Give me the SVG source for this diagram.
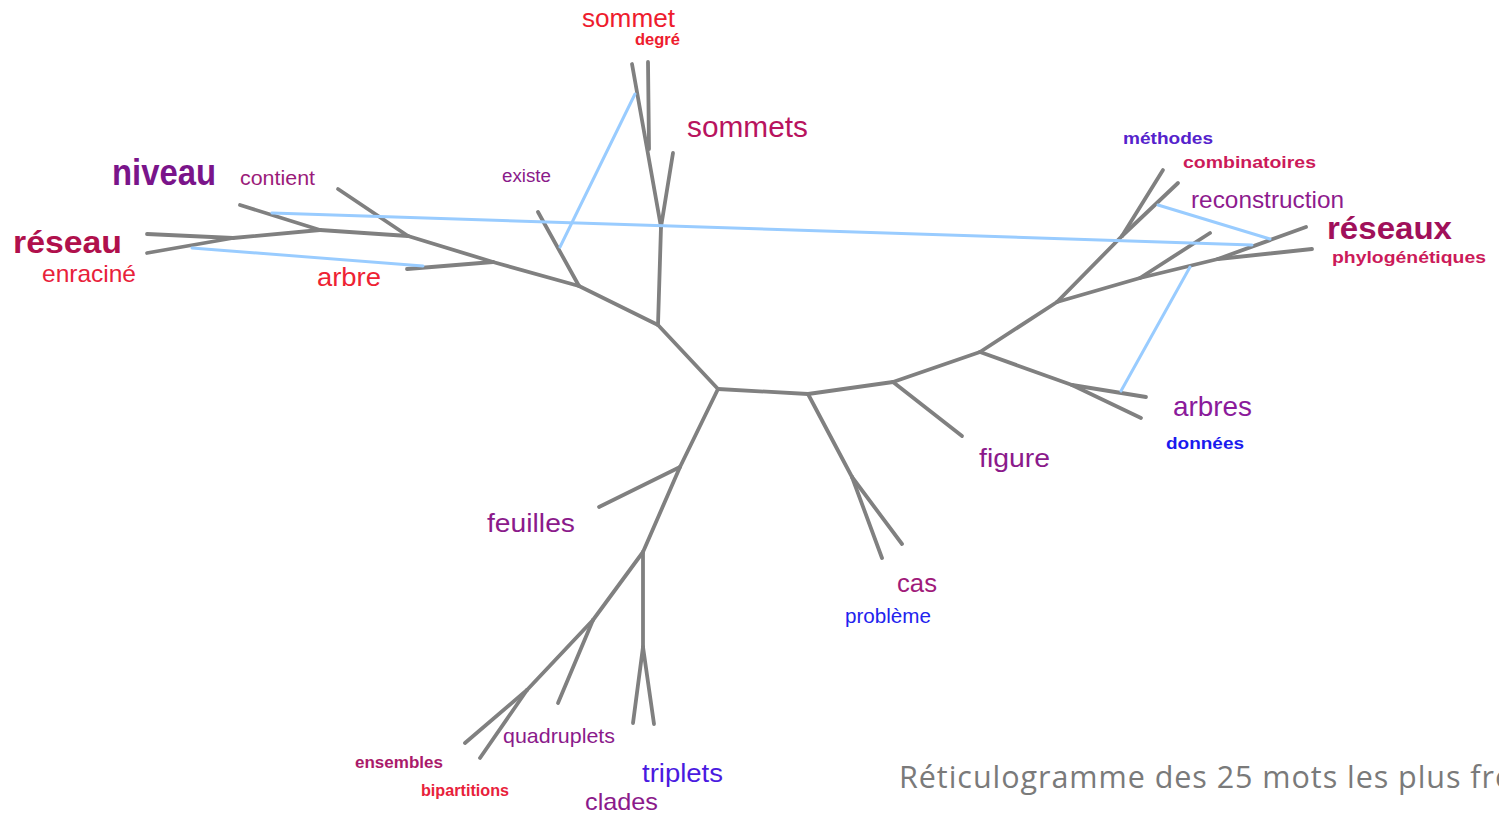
<svg xmlns="http://www.w3.org/2000/svg" width="1499" height="814" viewBox="0 0 1499 814">
<style>
.t{stroke:#808080;stroke-width:3.8;stroke-linecap:round;fill:none}
.b{stroke:#99ccff;stroke-width:3;stroke-linecap:round;fill:none}
text{font-family:"Liberation Sans",Arial,sans-serif}
.bd{font-weight:bold}
.cap{font-family:"Open Sans","Noto Sans",sans-serif;fill:#7a7a7a;font-size:30.5px;letter-spacing:0.95px}
</style>
<rect width="1499" height="814" fill="#ffffff"/>
<g id="connectors">
<g class="t">
<line x1="147" y1="234" x2="233" y2="238"/>
<line x1="147" y1="253" x2="233" y2="238"/>
<line x1="233" y1="238" x2="320" y2="230"/>
<line x1="240" y1="205" x2="320" y2="230"/>
<line x1="320" y1="230" x2="408" y2="236"/>
<line x1="338" y1="189" x2="408" y2="236"/>
<line x1="408" y1="236" x2="493" y2="262"/>
<line x1="407" y1="269" x2="493" y2="262"/>
<line x1="493" y1="262" x2="579" y2="286"/>
<line x1="538" y1="212" x2="579" y2="286"/>
<line x1="579" y1="286" x2="658" y2="325"/>
<line x1="658" y1="325" x2="718" y2="389"/>
<line x1="658" y1="325" x2="661" y2="227"/>
<line x1="661" y1="227" x2="673" y2="153"/>
<line x1="661" y1="227" x2="632" y2="64"/>
<line x1="649" y1="149" x2="648" y2="62"/>
<line x1="718" y1="389" x2="808" y2="394"/>
<line x1="808" y1="394" x2="893" y2="382"/>
<line x1="893" y1="382" x2="980" y2="352"/>
<line x1="893" y1="382" x2="962" y2="436"/>
<line x1="980" y1="352" x2="1057" y2="302"/>
<line x1="980" y1="352" x2="1072" y2="385"/>
<line x1="1072" y1="385" x2="1146" y2="397"/>
<line x1="1072" y1="385" x2="1141" y2="418"/>
<line x1="1057" y1="302" x2="1122" y2="236"/>
<line x1="1122" y1="236" x2="1163" y2="170"/>
<line x1="1122" y1="236" x2="1178" y2="183"/>
<line x1="1057" y1="302" x2="1140" y2="278"/>
<line x1="1140" y1="278" x2="1210" y2="233"/>
<line x1="1140" y1="278" x2="1218" y2="259"/>
<line x1="1218" y1="259" x2="1306" y2="227"/>
<line x1="1218" y1="259" x2="1312" y2="249"/>
<line x1="718" y1="389" x2="680" y2="467"/>
<line x1="680" y1="467" x2="599" y2="507"/>
<line x1="680" y1="467" x2="643" y2="552"/>
<line x1="643" y1="552" x2="643" y2="647"/>
<line x1="643" y1="647" x2="633" y2="723"/>
<line x1="643" y1="647" x2="654" y2="724"/>
<line x1="643" y1="552" x2="593" y2="620"/>
<line x1="593" y1="620" x2="558" y2="703"/>
<line x1="593" y1="620" x2="527" y2="690"/>
<line x1="527" y1="690" x2="465" y2="743"/>
<line x1="527" y1="690" x2="480" y2="758"/>
<line x1="808" y1="394" x2="852" y2="477"/>
<line x1="852" y1="477" x2="882" y2="558"/>
<line x1="852" y1="477" x2="902" y2="544"/>
</g>
<g class="b">
<line x1="272" y1="213" x2="1252" y2="245"/>
<line x1="192" y1="248" x2="423" y2="266"/>
<line x1="560" y1="247" x2="635" y2="94"/>
<line x1="1158" y1="205" x2="1270" y2="239"/>
<line x1="1190" y1="267" x2="1121" y2="391"/>
</g>
</g>
<g id="n-sommet"><text x="582" y="27" font-size="26" textLength="93" lengthAdjust="spacingAndGlyphs" fill="#ee1c2e">sommet</text></g>
<g id="n-degre"><text class="bd" x="635" y="45" font-size="16" textLength="45" lengthAdjust="spacingAndGlyphs" fill="#ee1c2e">degré</text></g>
<g id="n-sommets"><text x="687" y="137" font-size="29" textLength="121" lengthAdjust="spacingAndGlyphs" fill="#b8135e">sommets</text></g>
<g id="n-existe"><text x="502" y="182" font-size="18" textLength="49" lengthAdjust="spacingAndGlyphs" fill="#8a1a8a">existe</text></g>
<g id="n-niveau"><text class="bd" x="112" y="185" font-size="36" textLength="104" lengthAdjust="spacingAndGlyphs" fill="#7a148a">niveau</text></g>
<g id="n-contient"><text x="240" y="185" font-size="20" textLength="75" lengthAdjust="spacingAndGlyphs" fill="#9b1b7a">contient</text></g>
<g id="n-reseau"><text class="bd" x="13" y="253" font-size="31" textLength="109" lengthAdjust="spacingAndGlyphs" fill="#b0104c">réseau</text></g>
<g id="n-enracine"><text x="42" y="282" font-size="24" textLength="94" lengthAdjust="spacingAndGlyphs" fill="#e8213a">enraciné</text></g>
<g id="n-arbre"><text x="317" y="286" font-size="26" textLength="64" lengthAdjust="spacingAndGlyphs" fill="#ee2233">arbre</text></g>
<g id="n-methodes"><text class="bd" x="1123" y="144" font-size="17" textLength="90" lengthAdjust="spacingAndGlyphs" fill="#5522cc">méthodes</text></g>
<g id="n-combinatoires"><text class="bd" x="1183" y="168" font-size="17" textLength="133" lengthAdjust="spacingAndGlyphs" fill="#cc1a5a">combinatoires</text></g>
<g id="n-reconstruction"><text x="1191" y="208" font-size="24" textLength="153" lengthAdjust="spacingAndGlyphs" fill="#8e1b8e">reconstruction</text></g>
<g id="n-reseaux"><text class="bd" x="1327" y="239" font-size="32" textLength="125" lengthAdjust="spacingAndGlyphs" fill="#a0105a">réseaux</text></g>
<g id="n-phylogenetiques"><text class="bd" x="1332" y="263" font-size="17" textLength="154" lengthAdjust="spacingAndGlyphs" fill="#cc1a5a">phylogénétiques</text></g>
<g id="n-arbres"><text x="1173" y="416" font-size="28" textLength="79" lengthAdjust="spacingAndGlyphs" fill="#8b1a9b">arbres</text></g>
<g id="n-donnees"><text class="bd" x="1166" y="449" font-size="17" textLength="78" lengthAdjust="spacingAndGlyphs" fill="#1a1aee">données</text></g>
<g id="n-figure"><text x="979" y="467" font-size="26" textLength="71" lengthAdjust="spacingAndGlyphs" fill="#8b1a8b">figure</text></g>
<g id="n-cas"><text x="897" y="592" font-size="26" textLength="40" lengthAdjust="spacingAndGlyphs" fill="#a01a7a">cas</text></g>
<g id="n-probleme"><text x="845" y="623" font-size="20" textLength="86" lengthAdjust="spacingAndGlyphs" fill="#2222ee">problème</text></g>
<g id="n-feuilles"><text x="487" y="532" font-size="26" textLength="88" lengthAdjust="spacingAndGlyphs" fill="#8b1a8b">feuilles</text></g>
<g id="n-quadruplets"><text x="503" y="743" font-size="21" textLength="112" lengthAdjust="spacingAndGlyphs" fill="#8b1a8b">quadruplets</text></g>
<g id="n-ensembles"><text class="bd" x="355" y="768" font-size="17" textLength="88" lengthAdjust="spacingAndGlyphs" fill="#aa1a6a">ensembles</text></g>
<g id="n-bipartitions"><text class="bd" x="421" y="796" font-size="17" textLength="88" lengthAdjust="spacingAndGlyphs" fill="#e8213a">bipartitions</text></g>
<g id="n-triplets"><text x="642" y="782" font-size="26" textLength="81" lengthAdjust="spacingAndGlyphs" fill="#4a1ae0">triplets</text></g>
<g id="n-clades"><text x="585" y="810" font-size="24" textLength="73" lengthAdjust="spacingAndGlyphs" fill="#8b1a8b">clades</text></g>
<g id="caption">
<text class="cap" x="899" y="788">Réticulogramme des 25 mots les plus fréquents</text>
</g>
</svg>
